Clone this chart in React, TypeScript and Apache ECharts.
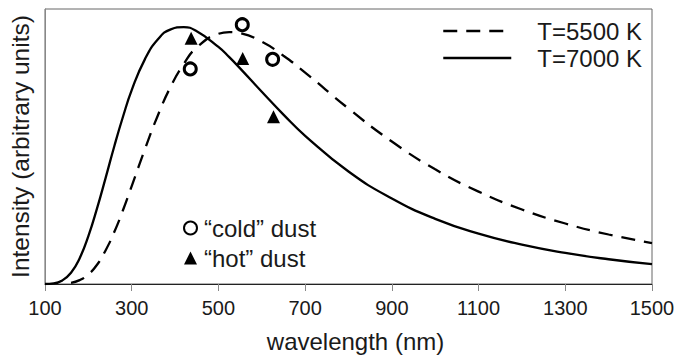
import React, { useEffect, useRef } from "react";
import * as echarts from "echarts";

// wavelength grid (nm)
const wavelengths = [100, 120, 140, 160, 180, 200, 220, 240, 260, 280, 300, 330, 360, 390, 420, 450, 500, 525, 550, 600, 650, 700, 800, 900, 1000, 1100, 1200, 1300, 1400, 1500];
// T=5500 K curve (arbitrary units)
const t5500 = [null, null, null, 0.4, 1.4, 3.5, 7.0, 12.3, 19.0, 26.9, 35.6, 48.8, 61.2, 71.8, 80.0, 86.0, 91.0, 91.6, 91.2, 88.1, 83.0, 76.9, 63.8, 51.8, 41.7, 33.6, 27.1, 22.0, 18.0, 14.9];
// T=7000 K curve (arbitrary units)
const t7000 = [0, 0.2, 1.3, 4.1, 9.4, 17.4, 27.5, 38.7, 50.2, 60.9, 70.5, 81.6, 88.9, 92.6, 93.4, 91.9, 86.2, 82.5, 78.4, 69.9, 61.6, 53.9, 40.9, 31.1, 23.7, 18.3, 14.3, 11.3, 9.0, 7.2];
// dust points
const coldDustX = [435, 555, 625];
const coldDustY = [78.2, 94.3, 81.7];
const hotDustX = [437, 556, 627];
const hotDustY = [89.4, 82.0, 60.8];
// x tick labels
const xTicks = [100, 300, 500, 700, 900, 1100, 1300, 1500];

const FONT = "'Liberation Sans', Arial, sans-serif";
const TXT = "#1a1a1a";

export default function App() {
  const ref = useRef<HTMLDivElement>(null);
  useEffect(() => {
    if (!ref.current) return;
    const chart = echarts.init(ref.current, undefined, { renderer: "svg" });
    const pairs = (ys: (number | null)[]) => wavelengths.map((w, i) => [w, ys[i]]);
    chart.setOption({
      animation: false,
      backgroundColor: "#fff",
      textStyle: { fontFamily: FONT },
      grid: {
        left: 43.5,
        right: 27,
        top: 9,
        bottom: 71,
        show: true,
        borderColor: "#666",
        borderWidth: 1,
        backgroundColor: "transparent",
      },
      xAxis: {
        type: "value",
        min: 100,
        max: 1500,
        name: "wavelength (nm)",
        nameLocation: "middle",
        nameGap: 45,
        nameTextStyle: { fontSize: 24, color: TXT, fontFamily: FONT, padding: [0, 0, 0, 14] },
        splitLine: { show: false },
        axisLine: { lineStyle: { color: "#222", width: 1 } },
        axisTick: { show: true, length: 7, inside: false, customValues: xTicks, lineStyle: { color: "#888" } },
        axisLabel: {
          customValues: xTicks,
          fontSize: 20,
          color: TXT,
          margin: 14,
          fontFamily: FONT,
          formatter: (v: number) => String(v),
        },
      },
      yAxis: {
        type: "value",
        min: 0,
        max: 100,
        name: "Intensity (arbitrary units)",
        nameLocation: "middle",
        nameGap: 12,
        nameTextStyle: { fontSize: 24.5, color: TXT, fontFamily: FONT },
        splitLine: { show: false },
        axisLine: { show: true, lineStyle: { color: "#888", width: 1 } },
        axisTick: { show: false },
        axisLabel: { show: false },
      },
      legend: [
        {
          data: ["T=5500 K", "T=7000 K"],
          orient: "vertical",
          right: 32,
          top: 14,
          itemWidth: 68,
          itemHeight: 14,
          itemGap: 3,
          itemStyle: { opacity: 0 },
          lineStyle: { width: 2.5 },
          textStyle: { fontSize: 24, color: TXT, fontFamily: FONT, padding: [0, 0, 0, 21] },
        },
        {
          data: ["“cold” dust", "“hot” dust"],
          orient: "vertical",
          left: 178,
          top: 211,
          itemWidth: 13,
          itemHeight: 13,
          itemGap: 6,
          textStyle: { fontSize: 24, color: TXT, fontFamily: FONT, padding: [0, 0, 0, 2] },
        },
      ],
      series: [
        {
          name: "T=5500 K",
          type: "line",
          data: pairs(t5500),
          smooth: true,
          showSymbol: false,
          symbol: "none",
          lineStyle: { color: "#000", width: 2.3, type: [14, 9] },
          itemStyle: { color: "#000" },
        },
        {
          name: "T=7000 K",
          type: "line",
          data: pairs(t7000),
          smooth: true,
          showSymbol: false,
          symbol: "none",
          lineStyle: { color: "#000", width: 2.3, type: "solid" },
          itemStyle: { color: "#000" },
        },
        {
          name: "“cold” dust",
          type: "scatter",
          data: coldDustX.map((x, i) => [x, coldDustY[i]]),
          symbol: "circle",
          symbolSize: 12,
          itemStyle: { color: "#fff", borderColor: "#000", borderWidth: 3, opacity: 1 },
        },
        {
          name: "“hot” dust",
          type: "scatter",
          data: hotDustX.map((x, i) => [x, hotDustY[i]]),
          symbol: "triangle",
          symbolSize: 13,
          itemStyle: { color: "#000", opacity: 1 },
        },
      ],
    });
    return () => chart.dispose();
  }, []);
  return <div ref={ref} style={{ width: 679, height: 358, position: "fixed", left: 0, top: 0 }} />;
}
